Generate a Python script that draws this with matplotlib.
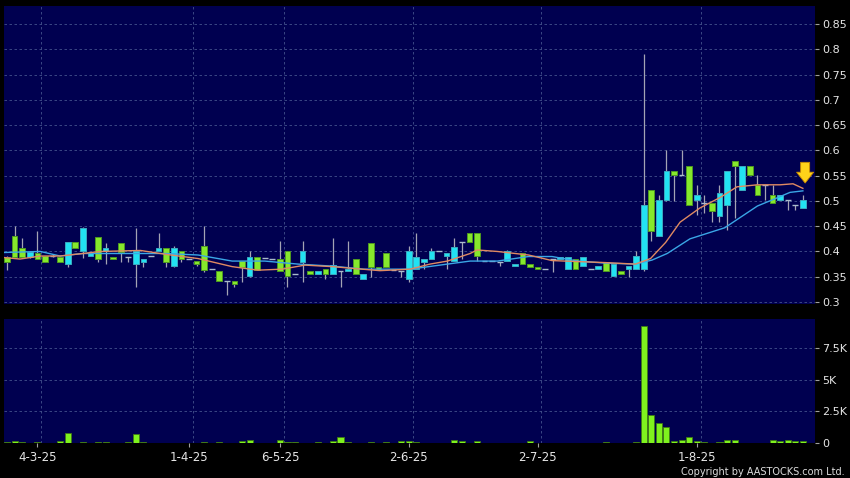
import matplotlib
matplotlib.use('Agg')
import matplotlib.pyplot as plt
from matplotlib.ticker import FuncFormatter
import numpy as np

# daily candles: open, high, low, close
opens = [0.390, 0.431, 0.406, 0.390, 0.396, 0.391, 0.392, 0.390, 0.375, 0.419,
         0.400, 0.391, 0.429, 0.400, 0.390, 0.416, 0.390, 0.375, 0.380, 0.391,
         0.400, 0.406, 0.371, 0.400, 0.386, 0.381, 0.411, 0.365, 0.361, 0.342,
         0.342, 0.381, 0.351, 0.390, 0.388, 0.386, 0.386, 0.400, 0.355, 0.380,
         0.361, 0.355, 0.365, 0.355, 0.362, 0.361, 0.386, 0.345, 0.416, 0.370,
         0.396, 0.363, 0.362, 0.345, 0.365, 0.380, 0.386, 0.401, 0.391, 0.381,
         0.419, 0.436, 0.436, 0.381, 0.382, 0.380, 0.381, 0.371, 0.396, 0.375,
         0.370, 0.365, 0.385, 0.385, 0.365, 0.386, 0.371, 0.365, 0.365, 0.380,
         0.351, 0.361, 0.365, 0.365, 0.365, 0.522, 0.430, 0.502, 0.560, 0.551,
         0.570, 0.502, 0.495, 0.495, 0.470, 0.492, 0.580, 0.522, 0.570, 0.532,
         0.532, 0.512, 0.502, 0.502, 0.492, 0.486]
closes = [0.380, 0.390, 0.390, 0.398, 0.385, 0.380, 0.392, 0.380, 0.419, 0.406,
          0.446, 0.396, 0.386, 0.406, 0.386, 0.398, 0.390, 0.400, 0.386, 0.391,
          0.406, 0.380, 0.406, 0.386, 0.386, 0.375, 0.363, 0.365, 0.342, 0.342,
          0.335, 0.370, 0.390, 0.363, 0.388, 0.386, 0.361, 0.351, 0.355, 0.400,
          0.355, 0.361, 0.355, 0.373, 0.362, 0.365, 0.355, 0.355, 0.370, 0.363,
          0.370, 0.363, 0.362, 0.400, 0.390, 0.386, 0.401, 0.401, 0.396, 0.409,
          0.419, 0.419, 0.391, 0.381, 0.382, 0.380, 0.400, 0.375, 0.375, 0.370,
          0.365, 0.365, 0.385, 0.390, 0.390, 0.365, 0.390, 0.365, 0.371, 0.361,
          0.375, 0.355, 0.371, 0.391, 0.492, 0.440, 0.502, 0.560, 0.551, 0.551,
          0.492, 0.512, 0.495, 0.480, 0.515, 0.560, 0.570, 0.570, 0.551, 0.512,
          0.532, 0.495, 0.512, 0.502, 0.492, 0.502]
highs = [0.392, 0.450, 0.427, 0.400, 0.440, 0.391, 0.395, 0.390, 0.419, 0.419,
         0.449, 0.396, 0.429, 0.417, 0.390, 0.416, 0.390, 0.446, 0.386, 0.391,
         0.437, 0.406, 0.411, 0.400, 0.386, 0.381, 0.450, 0.365, 0.361, 0.342,
         0.342, 0.381, 0.400, 0.390, 0.388, 0.386, 0.421, 0.400, 0.355, 0.421,
         0.361, 0.361, 0.365, 0.427, 0.362, 0.421, 0.386, 0.355, 0.416, 0.370,
         0.396, 0.363, 0.362, 0.411, 0.437, 0.386, 0.406, 0.401, 0.396, 0.426,
         0.419, 0.436, 0.436, 0.381, 0.382, 0.380, 0.403, 0.375, 0.396, 0.375,
         0.370, 0.365, 0.385, 0.390, 0.390, 0.386, 0.390, 0.365, 0.371, 0.380,
         0.375, 0.361, 0.371, 0.401, 0.791, 0.522, 0.512, 0.601, 0.560, 0.601,
         0.570, 0.532, 0.512, 0.495, 0.532, 0.560, 0.580, 0.570, 0.570, 0.551,
         0.532, 0.532, 0.512, 0.502, 0.492, 0.512]
lows = [0.363, 0.390, 0.390, 0.388, 0.385, 0.380, 0.390, 0.380, 0.370, 0.406,
        0.387, 0.391, 0.380, 0.375, 0.386, 0.380, 0.380, 0.330, 0.370, 0.391,
        0.400, 0.370, 0.370, 0.380, 0.386, 0.372, 0.360, 0.365, 0.342, 0.314,
        0.330, 0.340, 0.350, 0.363, 0.388, 0.386, 0.361, 0.330, 0.355, 0.340,
        0.355, 0.355, 0.345, 0.355, 0.330, 0.361, 0.355, 0.345, 0.350, 0.363,
        0.370, 0.363, 0.350, 0.340, 0.365, 0.365, 0.386, 0.401, 0.365, 0.381,
        0.386, 0.419, 0.381, 0.381, 0.382, 0.372, 0.381, 0.371, 0.375, 0.370,
        0.365, 0.365, 0.360, 0.385, 0.365, 0.365, 0.371, 0.365, 0.365, 0.361,
        0.351, 0.355, 0.350, 0.365, 0.362, 0.420, 0.430, 0.500, 0.500, 0.551,
        0.492, 0.472, 0.476, 0.459, 0.459, 0.443, 0.466, 0.522, 0.551, 0.512,
        0.502, 0.495, 0.502, 0.482, 0.482, 0.486]
volume = [40, 160, 80, 30, 80, 0, 0, 160, 760, 30,
          80, 0, 50, 80, 0, 0, 50, 710, 40, 0,
          0, 20, 20, 0, 0, 0, 40, 0, 60, 0,
          0, 120, 240, 0, 0, 0, 240, 100, 50, 0,
          0, 60, 0, 130, 450, 60, 0, 0, 110, 0,
          60, 0, 160, 130, 60, 0, 0, 0, 0, 240,
          180, 0, 130, 0, 0, 20, 0, 0, 0, 160,
          0, 0, 0, 30, 0, 0, 0, 30, 0, 60,
          0, 0, 0, 80, 9250, 2210, 1550, 1290, 160, 240,
          450, 160, 60, 0, 50, 240, 200, 0, 0, 30,
          0, 240, 160, 200, 130, 130]

# moving averages as drawn (candle position, price)
ma_fast_x = [-0.4, 1.7, 4.4, 7.0, 10.0, 12.3, 17.6, 21.1, 25.2, 29.7, 33.1, 36.3,
             39.3, 42.9, 49.2, 53.2, 55.8, 58.1, 61.1, 62.0, 64.7, 68.8, 71.9,
             75.3, 78.9, 82.9, 84.9, 86.9, 88.8, 91.4, 94.1, 96.3, 99.0, 102.0,
             103.7, 105.0]
ma_fast_y = [0.388, 0.385, 0.391, 0.391, 0.396, 0.400, 0.402, 0.394, 0.386, 0.370,
             0.363, 0.365, 0.373, 0.370, 0.362, 0.365, 0.375, 0.381, 0.396, 0.403,
             0.400, 0.393, 0.382, 0.380, 0.378, 0.375, 0.386, 0.418, 0.458, 0.486,
             0.507, 0.528, 0.532, 0.532, 0.534, 0.525]
ma_slow_x = [-0.4, 4.4, 7.0, 10.0, 16.6, 20.9, 25.2, 29.7, 34.0, 38.4, 42.9, 47.0,
             53.2, 58.1, 61.1, 64.7, 68.8, 71.9, 75.3, 78.9, 82.9, 85.1, 87.1,
             90.1, 94.7, 97.0, 99.0, 101.1, 103.3, 105.0]
ma_slow_y = [0.398, 0.400, 0.391, 0.396, 0.396, 0.396, 0.393, 0.381, 0.381, 0.375,
             0.371, 0.365, 0.365, 0.375, 0.381, 0.381, 0.390, 0.390, 0.381, 0.377,
             0.375, 0.383, 0.396, 0.425, 0.447, 0.470, 0.490, 0.503, 0.517, 0.520]

date_labels = ['4-3-25', '1-4-25', '6-5-25', '2-6-25', '2-7-25', '1-8-25']
date_idx = [4, 24, 36, 53, 70, 91]

price_ticks = [0.3, 0.35, 0.4, 0.45, 0.5, 0.55, 0.6, 0.65, 0.7, 0.75, 0.8, 0.85]
vol_ticks = [0, 2500, 5000, 7500]
vol_tick_labels = ['0', '2.5K', '5K', '7.5K']

NAVY = '#000050'
GRID = '#44528c'
TXT = '#e6e6e6'
UP_FC, UP_EC = '#22e2f2', '#3aaabf'
DN_FC, DN_EC = '#86e82c', '#4f9a22'

o = np.array(opens); c = np.array(closes)
h = np.array(highs); l = np.array(lows)
x = np.arange(len(o))

fig = plt.figure(figsize=(8.5, 4.78), dpi=100, facecolor='black')
ax = fig.add_axes([4/850, 1-304/478, 811/850, 298/478])
axv = fig.add_axes([4/850, 1-443/478, 811/850, 124/478])

for a in (ax, axv):
    a.set_facecolor(NAVY)
    for s in a.spines.values():
        s.set_visible(False)
    a.set_xlim(-0.4, 106.6)
    a.yaxis.tick_right()
    a.tick_params(axis='y', colors='#a0a0a0', labelcolor=TXT, labelsize=8,
                  length=3, width=0.8, pad=2)
    a.set_axisbelow(True)
    for xi in date_idx:
        a.axvline(xi + 0.5, color=GRID, lw=0.6, ls=(0, (3, 3)), zorder=0)

# price panel
ax.set_ylim(0.296, 0.886)
ax.set_yticks(price_ticks)
ax.yaxis.set_major_formatter(FuncFormatter(lambda v, p: ('%.2f' % v).rstrip('0')))
ax.grid(axis='y', color=GRID, lw=0.6, ls=(0, (3, 3)))
ax.set_xticks([])

ax.vlines(x, l, h, color='#a4a4b4', lw=0.9, zorder=2)
up = c > o
dn = c < o
flat = c == o
ax.bar(x[up], (c - o)[up], bottom=o[up], width=0.75, color=UP_FC,
       edgecolor=UP_EC, lw=0.7, zorder=3)
ax.bar(x[dn], (o - c)[dn], bottom=c[dn], width=0.75, color=DN_FC,
       edgecolor=DN_EC, lw=0.7, zorder=3)
ax.hlines(c[flat], x[flat] - 0.38, x[flat] + 0.38, color='#aabbcc', lw=1.0, zorder=3)

ax.plot(ma_slow_x, ma_slow_y, color='#3aa6e6', lw=1.0, zorder=4)
ax.plot(ma_fast_x, ma_fast_y, color='#e08a62', lw=1.0, zorder=4)

# marker arrow over the last day
tip = ma_slow_y[-1] + 0.010
ax.annotate('', xy=(x[-1] + 0.3, tip), xytext=(x[-1] + 0.3, tip + 0.052),
            arrowprops=dict(arrowstyle='simple,head_width=0.95,head_length=0.6,tail_width=0.5',
                            fc='#ffd21a', ec='#c98a00', lw=0.6, mutation_scale=13),
            zorder=6)

# volume panel
axv.set_ylim(0, 9780)
axv.set_yticks(vol_ticks)
axv.set_yticklabels(vol_tick_labels)
axv.grid(axis='y', color=GRID, lw=0.6, ls=(0, (3, 3)))
axv.bar(x, volume, width=0.8, color='#7ff21e', edgecolor='#3f7a14', lw=0.6, zorder=3)
axv.set_xticks(date_idx)
axv.set_xticklabels(date_labels)
axv.tick_params(axis='x', colors='#a0a0a0', labelcolor=TXT, labelsize=8.5,
                length=3, width=0.8, pad=3)

fig.text(0.994, 1 - 472/478, 'Copyright by AASTOCKS.com Ltd.', color='#dcdcdc',
         fontsize=7, ha='right', va='center')

fig.savefig('out.png', dpi=100, facecolor='black')
